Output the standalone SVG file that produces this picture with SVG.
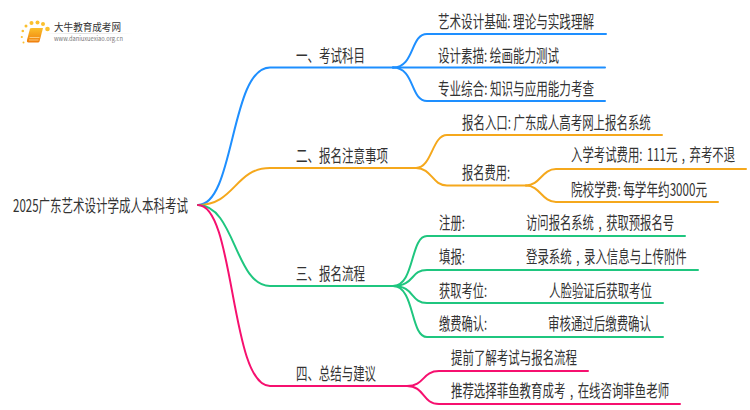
<svg xmlns="http://www.w3.org/2000/svg" width="750" height="410" viewBox="0 0 750 410">
<style>
text{font-family:"Noto Sans CJK SC","Noto Sans",sans-serif;font-size:17px;fill:#333;}
.w{word-spacing:3px}
.c{fill:none;stroke-width:2;stroke-linecap:round}
.b{stroke:#1e8fff}.o{stroke:#f5a81c}.g{stroke:#1fc67f}.m{stroke:#f6106f}
</style>
<defs><linearGradient id="lg"><stop offset="0" stop-color="#ddd" stop-opacity="0"/><stop offset=".4" stop-color="#ddd"/><stop offset="1" stop-color="#ddd" stop-opacity="0"/></linearGradient>
<linearGradient id="bk" x1="0" y1="0" x2="0" y2="1"><stop offset="0" stop-color="#fbbf2a"/><stop offset="1" stop-color="#ef7d0c"/></linearGradient></defs>
<rect width="750" height="410" fill="#fff"/>
<g id="connectors">
<path class="c b" d="M198 205C235 205 230 67.500 270 67.500H393"/>
<path class="c b" d="M393 67.500C415 67.500 410 34 427 34H606"/>
<path class="c b" d="M393 67.500H605"/>
<path class="c b" d="M393 67.500C415 67.500 410 101 427 101H605"/>
<path class="c o" d="M198 205C235 205 235 168 270 168H416"/>
<path class="c o" d="M416 168C432 168 432 135 447 135H662"/>
<path class="c o" d="M416 168C432 168 432 185.500 447 185.500H526"/>
<path class="c o" d="M526 185.500C540 185.500 542 169 556 169H746"/>
<path class="c o" d="M526 185.500C540 185.500 542 202 556 202H718"/>
<path class="c g" d="M198 205C235 205 235 286 270 286H393"/>
<path class="c g" d="M393 286C415 286 410 236 427 236H685"/>
<path class="c g" d="M393 286C415 286 410 270 427 270H698"/>
<path class="c g" d="M393 286C415 286 410 303 427 303H663"/>
<path class="c g" d="M393 286C415 286 410 337 427 337H663"/>
<path class="c m" d="M198 205C235 205 230 386 270 386H407"/>
<path class="c m" d="M407 386C425 386 422 371 439 371H588"/>
<path class="c m" d="M407 386C425 386 422 404 439 404H680"/>
</g>
<g id="logo">
<g fill="#fbc02d"><circle cx="47.500" cy="29" r="2.300"/><circle cx="43" cy="24" r="2"/><circle cx="37.500" cy="22.500" r="2"/><circle cx="31.500" cy="23" r="2"/><circle cx="26" cy="26" r="1.500"/><circle cx="22.800" cy="31" r="1.300"/><circle cx="21.800" cy="37" r="1.100"/><circle cx="23.500" cy="42.500" r="1"/></g>
<path d="M30 28.500Q30.500 28 32 28H43L39.500 41.500Q39 42.500 38 42.500H28.500Q26.500 42.500 27 40Z" fill="url(#bk)"/>
<path d="M29.500 37.500H39.500M29 40H38.500" stroke="#ffe2a8" stroke-width=".7" fill="none"/>
<rect x="45" y="33" width="88" height="1" fill="url(#lg)"/>
<text x="54" y="31" textLength="67" lengthAdjust="spacingAndGlyphs" style="font-size:10px">大牛教育成考网</text>
<text x="54" y="41" textLength="69" lengthAdjust="spacingAndGlyphs" style="font-size:6px;fill:#777">www.daniuxuexiao.org.cn</text>
</g>
<g id="root"><text x="13" y="212" textLength="175" lengthAdjust="spacingAndGlyphs">2025广东艺术设计学成人本科考试</text></g>
<g id="n1"><text x="296" y="62" textLength="69" lengthAdjust="spacingAndGlyphs">一、考试科目</text></g>
<g id="n1-1"><text x="438" y="28" textLength="156" lengthAdjust="spacingAndGlyphs">艺术设计基础: 理论与实践理解</text></g>
<g id="n1-2"><text x="438" y="62" textLength="121" lengthAdjust="spacingAndGlyphs">设计素描: 绘画能力测试</text></g>
<g id="n1-3"><text x="438" y="95" textLength="156" lengthAdjust="spacingAndGlyphs">专业综合: 知识与应用能力考查</text></g>
<g id="n2"><text x="296" y="162" textLength="92" lengthAdjust="spacingAndGlyphs">二、报名注意事项</text></g>
<g id="n2-1"><text transform="translate(462 129) scale(.667 1)" textLength="283" lengthAdjust="spacingAndGlyphs">报名入口: 广东成人高考网上报名系统</text></g>
<g id="n2-2"><text x="462" y="179" textLength="48" lengthAdjust="spacingAndGlyphs">报名费用:</text></g>
<g id="n2-2-1"><text class="w" transform="translate(571 161) scale(.667 1)" textLength="246" lengthAdjust="spacingAndGlyphs">入学考试费用: 111元 , 弃考不退</text></g>
<g id="n2-2-2"><text transform="translate(571 196) scale(.667 1)" textLength="204" lengthAdjust="spacingAndGlyphs">院校学费: 每学年约3000元</text></g>
<g id="n3"><text x="296" y="280" textLength="69" lengthAdjust="spacingAndGlyphs">三、报名流程</text></g>
<g id="n3-1"><text x="439" y="229" textLength="26" lengthAdjust="spacingAndGlyphs">注册:</text><text class="w" transform="translate(526 229) scale(.667 1)" textLength="222" lengthAdjust="spacingAndGlyphs">访问报名系统 , 获取预报名号</text></g>
<g id="n3-2"><text x="439" y="263" textLength="26" lengthAdjust="spacingAndGlyphs">填报:</text><text class="w" transform="translate(526 263) scale(.667 1)" textLength="241" lengthAdjust="spacingAndGlyphs">登录系统 , 录入信息与上传附件</text></g>
<g id="n3-3"><text x="439" y="297" textLength="48" lengthAdjust="spacingAndGlyphs">获取考位:</text><text x="549" y="297" textLength="103" lengthAdjust="spacingAndGlyphs">人脸验证后获取考位</text></g>
<g id="n3-4"><text x="439" y="330" textLength="48" lengthAdjust="spacingAndGlyphs">缴费确认:</text><text x="548" y="330" textLength="103" lengthAdjust="spacingAndGlyphs">审核通过后缴费确认</text></g>
<g id="n4"><text x="296" y="380" textLength="80" lengthAdjust="spacingAndGlyphs">四、总结与建议</text></g>
<g id="n4-1"><text x="451" y="364" textLength="126" lengthAdjust="spacingAndGlyphs">提前了解考试与报名流程</text></g>
<g id="n4-2"><text class="w" transform="translate(451 397) scale(.667 1)" textLength="327" lengthAdjust="spacingAndGlyphs">推荐选择菲鱼教育成考 , 在线咨询菲鱼老师</text></g>
</svg>
